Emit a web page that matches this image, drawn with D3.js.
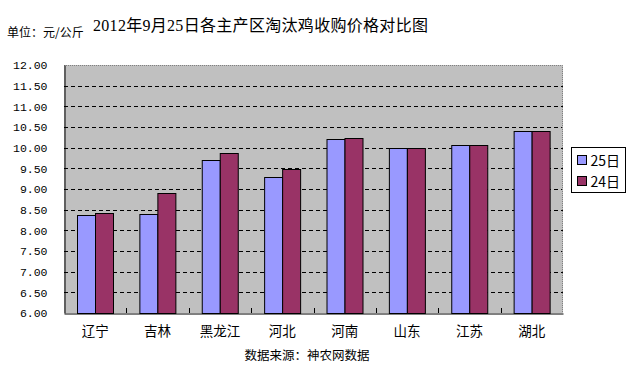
<!DOCTYPE html>
<html><head><meta charset="utf-8">
<script src="https://cdn.jsdelivr.net/npm/d3@7/dist/d3.min.js"></script>
<style>body{margin:0;background:#fff;}svg{display:block;}</style>
</head><body>
<svg id="c" width="632" height="368"></svg>
<script>
const categories = ["辽宁","吉林","黑龙江","河北","河南","山东","江苏","湖北"];
const seriesNames = ["25日","24日"];
const values25 = [8.37, 8.40, 9.70, 9.29, 10.21, 9.98, 10.07, 10.41];
const values24 = [8.42, 8.90, 9.87, 9.48, 10.24, 9.98, 10.07, 10.41];
const yTicks = [6.0,6.5,7.0,7.5,8.0,8.5,9.0,9.5,10.0,10.5,11.0,11.5,12.0];
const colors = ["#9999FF","#993366"];

const svg = d3.select("#c");
const cjk = "'Noto Sans CJK SC', sans-serif";
const L = 64, R = 563, T = 65, B = 313;

const x = d3.scaleBand().domain(categories).range([L, R]).paddingInner(0).paddingOuter(0);
const xs = d3.scaleBand().domain(seriesNames).range([0, x.bandwidth()]).paddingInner(0).paddingOuter(0.7);
const y = d3.scaleLinear().domain([6, 12]).range([B, T]);

svg.append("rect").attr("x", L).attr("y", T).attr("width", R - L).attr("height", B - T).attr("fill", "#C0C0C0");

// gridlines
svg.append("g").selectAll("line").data(yTicks.filter(d => d > 6 && d < 12)).join("line")
  .attr("x1", L).attr("x2", R).attr("y1", d => Math.round(y(d)) + 0.5).attr("y2", d => Math.round(y(d)) + 0.5)
  .attr("stroke", "#000").attr("stroke-dasharray", "4,3");

// top and right dotted border
svg.append("path").attr("d", `M${L},${T + 0.5}H${R - 0.5}V${B}`).attr("fill", "none")
  .attr("stroke", "#808080").attr("stroke-dasharray", "1,1");

const data = categories.map((c, i) => ({c, vals: [values25[i], values24[i]]}));
const g = svg.append("g").selectAll("g").data(data).join("g").attr("transform", d => `translate(${x(d.c)},0)`);
g.selectAll("rect").data(d => d.vals.map((v, j) => ({v, s: seriesNames[j], j}))).join("rect")
  .attr("x", d => Math.round(xs(d.s)) + 0.5).attr("width", Math.round(xs.bandwidth()))
  .attr("y", d => Math.round(y(d.v)) + 0.5).attr("height", d => B - Math.round(y(d.v)))
  .attr("fill", d => colors[d.j]).attr("stroke", "#000").attr("stroke-width", 1);

// y axis
const ya = svg.append("g").attr("transform", `translate(${L + 0.5},0)`)
  .call(d3.axisLeft(y).tickValues(yTicks).tickFormat(d3.format(".2f")).tickSize(0).tickPadding(17));
ya.select(".domain").attr("stroke", "#000");
ya.selectAll("text").attr("font-family", "'Liberation Mono', monospace").attr("font-size", "11.5px").attr("fill", "#000");

// x axis
const xa = svg.append("g").attr("transform", `translate(0,${B + 0.5})`)
  .call(d3.axisBottom(x).tickSize(0).tickPadding(13));
xa.select(".domain").attr("stroke", "#000");
xa.selectAll("text").attr("font-family", cjk).attr("font-size", "13.5px").attr("fill", "#000");
// inward tick marks at category boundaries
svg.append("g").selectAll("line").data(categories.slice(1)).join("line")
  .attr("x1", d => Math.round(x(d)) + 0.5).attr("x2", d => Math.round(x(d)) + 0.5)
  .attr("y1", B).attr("y2", B - 5).attr("stroke", "#000");

// title
svg.append("text").attr("x", 93).attr("y", 31)
  .attr("font-family", "'Liberation Serif', 'Noto Sans CJK SC', serif").attr("font-size", "16px")
  .attr("textLength", 335).attr("lengthAdjust", "spacing")
  .text("2012年9月25日各主产区淘汰鸡收购价格对比图");
svg.append("text").attr("x", 7).attr("y", 37).attr("font-family", cjk).attr("font-size", "12px")
  .text("单位：元/公斤");
svg.append("text").attr("x", 307).attr("y", 360).attr("text-anchor", "middle")
  .attr("font-family", cjk).attr("font-size", "12.5px").text("数据来源：神农网数据");

// legend
const lg = svg.append("g").attr("transform", "translate(571.5,147.5)");
lg.append("rect").attr("width", 54).attr("height", 45).attr("fill", "#fff").attr("stroke", "#000");
seriesNames.forEach((s, i) => {
  lg.append("rect").attr("x", 6).attr("y", 8 + i * 21).attr("width", 9).attr("height", 9)
    .attr("fill", colors[i]).attr("stroke", "#000");
  lg.append("text").attr("x", 19).attr("y", 18 + i * 21).attr("font-family", cjk).attr("font-size", "14px").text(s);
});
</script>
</body></html>
